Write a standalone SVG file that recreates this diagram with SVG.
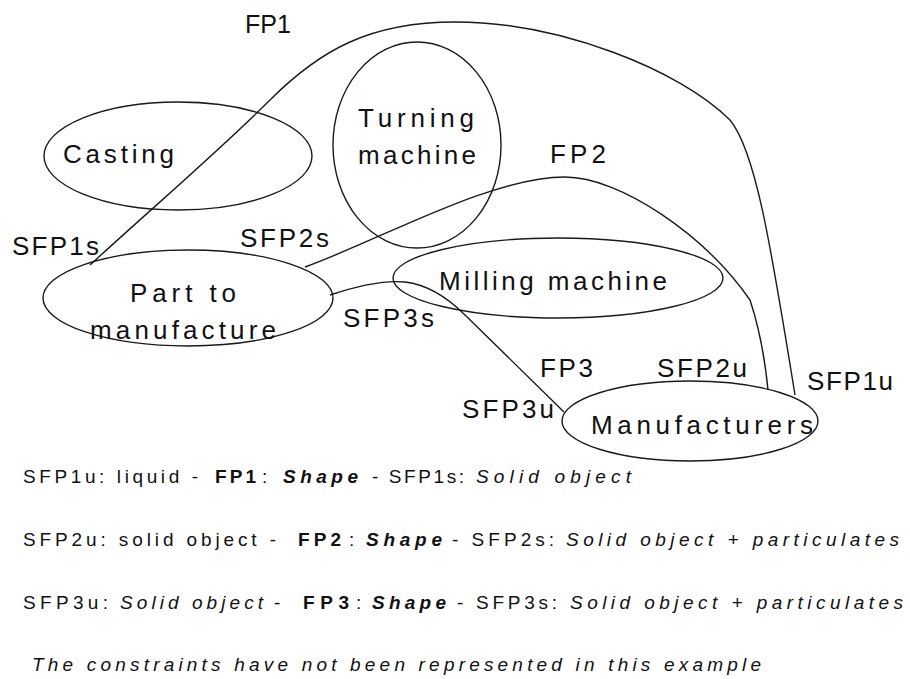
<svg xmlns="http://www.w3.org/2000/svg" width="910" height="679" viewBox="0 0 910 679">
<style>
.node ellipse{fill:none;stroke:#1a1a1a;stroke-width:1.4}
.conn path{fill:none;stroke:#1a1a1a;stroke-width:1.4}
text{font-family:"Liberation Sans",Arial,sans-serif;fill:#111}
.lbl{font-size:26px}
.leg{font-size:19px}
.b{font-weight:bold}
.i{font-style:italic}
.bi{font-weight:bold;font-style:italic}
</style>
<rect width="910" height="679" fill="#fff"/>
<g id="connectors" class="conn">
<path id="fp1" d="M90,265 C150,210 220,150 270,100 C320,50 370,22 455,22 C560,22 680,70 730,120 C755,150 770,240 795,395"/>
<path id="fp2" d="M305,267 C380,240 490,177 565,177 C620,177 705,235 750,300 C760,330 765,360 768,390"/>
<path id="fp3" d="M330,295 C360,285 385,280 405,282 C430,285 450,300 465,315 L564,412"/>
</g>
<g id="casting" class="node">
<ellipse cx="178" cy="156" rx="134" ry="54"/>
<text class="lbl" x="63" y="163" textLength="111" lengthAdjust="spacing">Casting</text>
</g>
<g id="turning" class="node">
<ellipse cx="417" cy="145" rx="84" ry="103"/>
<text class="lbl" x="358" y="127" textLength="116" lengthAdjust="spacing">Turning</text>
<text class="lbl" x="358" y="164" textLength="118" lengthAdjust="spacing">machine</text>
</g>
<g id="part" class="node">
<ellipse cx="188" cy="298" rx="145" ry="48"/>
<text class="lbl" x="130" y="302" textLength="106" lengthAdjust="spacing">Part to</text>
<text class="lbl" x="90" y="339" textLength="186" lengthAdjust="spacing">manufacture</text>
</g>
<g id="milling" class="node">
<ellipse cx="558" cy="278" rx="165" ry="40"/>
<text class="lbl" x="439" y="290" textLength="228" lengthAdjust="spacing">Milling machine</text>
</g>
<g id="manufacturers" class="node">
<ellipse cx="690" cy="421" rx="128" ry="40"/>
<text class="lbl" x="591" y="434" textLength="222" lengthAdjust="spacing">Manufacturers</text>
</g>
<g id="labels">
<text class="lbl" x="245" y="33" textLength="46" lengthAdjust="spacingAndGlyphs">FP1</text>
<text class="lbl" x="550" y="163" textLength="56" lengthAdjust="spacing">FP2</text>
<text class="lbl" x="540" y="377" textLength="53" lengthAdjust="spacing">FP3</text>
<text class="lbl" x="12" y="255" textLength="87" lengthAdjust="spacing">SFP1s</text>
<text class="lbl" x="240" y="247" textLength="89" lengthAdjust="spacing">SFP2s</text>
<text class="lbl" x="343" y="327" textLength="91" lengthAdjust="spacing">SFP3s</text>
<text class="lbl" x="807" y="390" textLength="86" lengthAdjust="spacing">SFP1u</text>
<text class="lbl" x="657" y="377" textLength="90" lengthAdjust="spacing">SFP2u</text>
<text class="lbl" x="462" y="418" textLength="92" lengthAdjust="spacing">SFP3u</text>
</g>
<g id="legend">
<text class="leg" y="483"><tspan x="23" textLength="175" lengthAdjust="spacing">SFP1u: liquid -</tspan><tspan x="215" class="b" textLength="41" lengthAdjust="spacing">FP1</tspan><tspan x="262">:</tspan><tspan x="283" class="bi" textLength="75" lengthAdjust="spacing">Shape</tspan><tspan x="372" textLength="92" lengthAdjust="spacing">- SFP1s:</tspan><tspan x="476" class="i" textLength="155" lengthAdjust="spacing">Solid object</tspan></text>
<text class="leg" y="546"><tspan x="23" textLength="253" lengthAdjust="spacing">SFP2u: solid object -</tspan><tspan x="298" class="b" textLength="43" lengthAdjust="spacing">FP2</tspan><tspan x="349">:</tspan><tspan x="366" class="bi" textLength="76" lengthAdjust="spacing">Shape</tspan><tspan x="452" textLength="102" lengthAdjust="spacing">- SFP2s:</tspan><tspan x="566" class="i" textLength="333" lengthAdjust="spacing">Solid object + particulates</tspan></text>
<text class="leg" y="609"><tspan x="23" textLength="85" lengthAdjust="spacing">SFP3u:</tspan><tspan x="120" class="i" textLength="143" lengthAdjust="spacing">Solid object</tspan><tspan x="274">-</tspan><tspan x="303" class="b" textLength="46" lengthAdjust="spacing">FP3</tspan><tspan x="356">:</tspan><tspan x="372" class="bi" textLength="74" lengthAdjust="spacing">Shape</tspan><tspan x="457" textLength="100" lengthAdjust="spacing">- SFP3s:</tspan><tspan x="570" class="i" textLength="333" lengthAdjust="spacing">Solid object + particulates</tspan></text>
<text class="leg i" x="32" y="671" textLength="729" lengthAdjust="spacing">The constraints have not been represented in this example</text>
</g>
</svg>
